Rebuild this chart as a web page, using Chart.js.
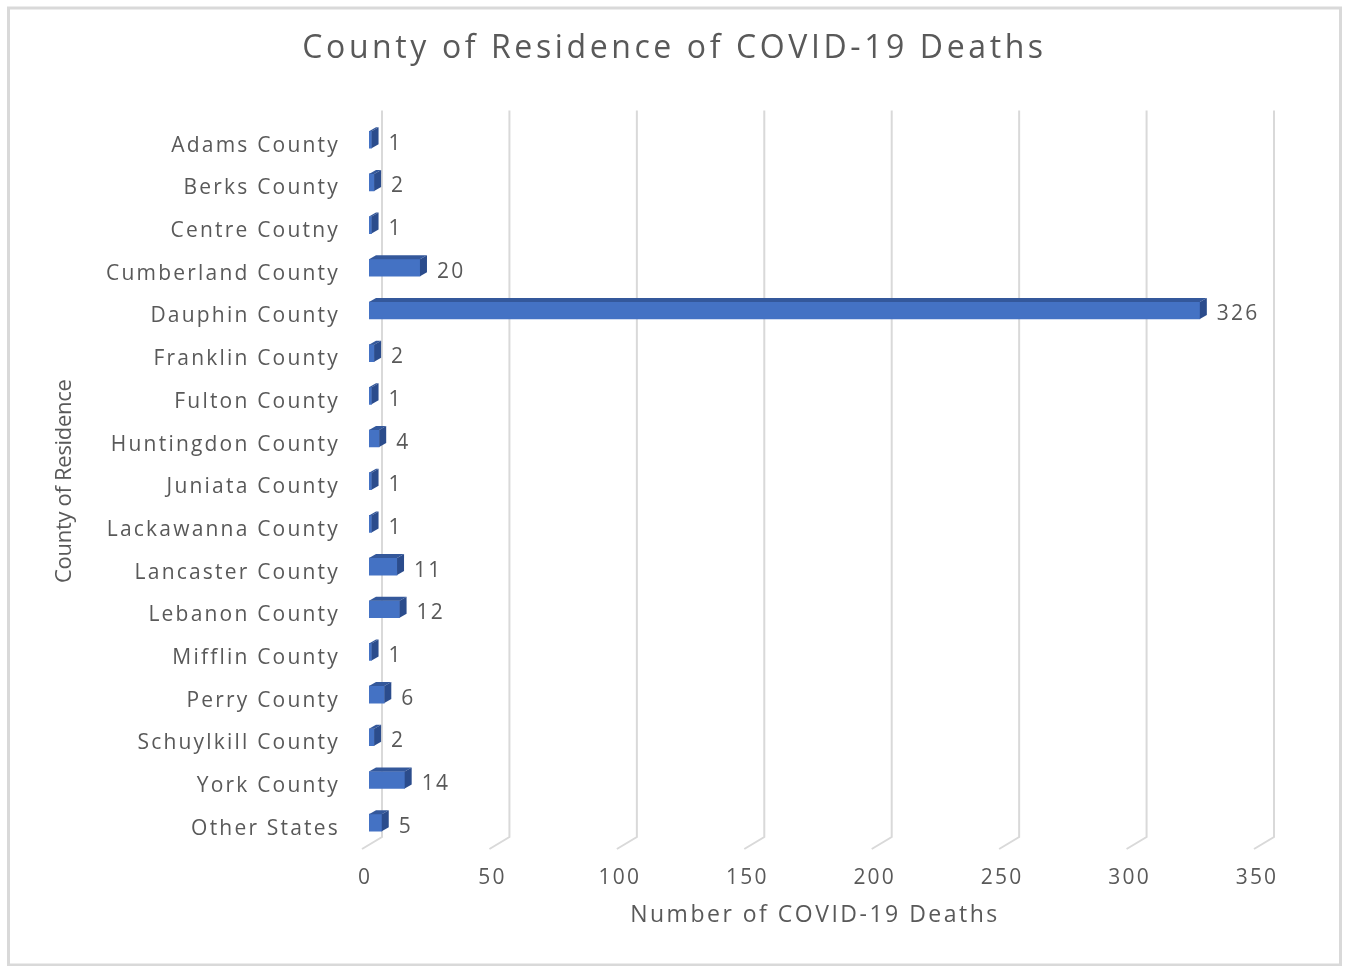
<!DOCTYPE html>
<html>
<head>
<meta charset="utf-8">
<title>County of Residence of COVID-19 Deaths</title>
<script src="https://cdn.jsdelivr.net/npm/chart.js@4"></script>
<style>
  body { margin: 0; background: #fff; }
  canvas { display: block; }
</style>
</head>
<body>
<canvas id="deathsChart" width="1349" height="966"></canvas>
<script>
const counties = [
    'Adams County', 'Berks County', 'Centre Coutny', 'Cumberland County',
    'Dauphin County', 'Franklin County', 'Fulton County', 'Huntingdon County',
    'Juniata County', 'Lackawanna County', 'Lancaster County', 'Lebanon County',
    'Mifflin County', 'Perry County', 'Schuylkill County', 'York County', 'Other States'
];
const deaths = [1, 2, 1, 20, 326, 2, 1, 4, 1, 1, 11, 12, 1, 6, 2, 14, 5];
const xTicks = [0, 50, 100, 150, 200, 250, 300, 350];

const textGray = '#595959';
const fontFamily = "'Open Sans', sans-serif";

// the reference text is drawn wide, so space the letters out per font size
const spacingBySize = { '32': 3.6, '21': 2.2, '23': 2.5, '22': -0.3 };

const patchSpacing = (ctx) => {
    ['fillText', 'measureText'].forEach((fn) => {
        const orig = ctx[fn].bind(ctx);
        ctx[fn] = (...args) => {
            const m = ctx.font.match(/([\d.]+)px/);
            const sp = m ? (spacingBySize[m[1]] || 0) : 0;
            ctx.letterSpacing = sp + 'px';
            return orig(...args);
        };
    });
};

// fake 3D look: back gridlines with a floor kink, bar top/side faces, value labels
const depth = { dx: 7, dy: 4, back: 13 };

const bars3d = {
    id: 'bars3d',
    beforeInit(chart) {
        patchSpacing(chart.ctx);
    },
    afterLayout(chart) {
        // centre the title on the whole canvas, not just the padded box
        if (chart.titleBlock) {
            chart.titleBlock.left = 0;
            chart.titleBlock.right = chart.width;
            chart.titleBlock.width = chart.width;
        }
    },
    beforeDraw(chart) {
        const ctx = chart.ctx;
        ctx.save();
        ctx.strokeStyle = '#d9d9d9';
        ctx.lineWidth = 3;
        ctx.strokeRect(8.5, 8, 1332, 957);
        ctx.restore();
    },
    beforeDatasetsDraw(chart) {
        const { ctx, chartArea, scales } = chart;
        ctx.save();
        ctx.strokeStyle = '#d9d9d9';
        ctx.lineWidth = 2;
        xTicks.forEach((v) => {
            const xb = scales.x.getPixelForValue(v) + depth.back;
            ctx.beginPath();
            ctx.moveTo(xb, chartArea.top - 8);
            ctx.lineTo(xb, chartArea.bottom - 7);
            ctx.lineTo(xb - 20, chartArea.bottom + 5);
            ctx.stroke();
        });
        ctx.restore();
    },
    afterDatasetsDraw(chart) {
        const ctx = chart.ctx;
        const meta = chart.getDatasetMeta(0);
        const { dx, dy } = depth;
        ctx.save();
        meta.data.forEach((bar, i) => {
            const { x, y, base, height } = bar.getProps(['x', 'y', 'base', 'height'], true);
            const top = y - height / 2;
            const bottom = y + height / 2;

            ctx.fillStyle = '#34589b';
            ctx.beginPath();
            ctx.moveTo(base, top);
            ctx.lineTo(base + dx, top - dy);
            ctx.lineTo(x + dx, top - dy);
            ctx.lineTo(x, top);
            ctx.closePath();
            ctx.fill();

            ctx.fillStyle = '#2b4c8c';
            ctx.beginPath();
            ctx.moveTo(x, top);
            ctx.lineTo(x + dx, top - dy);
            ctx.lineTo(x + dx, bottom - dy);
            ctx.lineTo(x, bottom);
            ctx.closePath();
            ctx.fill();

            ctx.fillStyle = textGray;
            ctx.font = `21px ${fontFamily}`;
            ctx.textAlign = 'left';
            ctx.textBaseline = 'middle';
            ctx.fillText(String(deaths[i]), x + 17, y + 4);
        });
        ctx.restore();
    }
};

new Chart(document.getElementById('deathsChart'), {
    type: 'bar',
    data: {
        labels: counties,
        datasets: [
            {
                label: 'Number of COVID-19 Deaths',
                data: deaths,
                backgroundColor: '#4472c4',
                borderWidth: 0,
                barThickness: 17
            }
        ]
    },
    options: {
        indexAxis: 'y',
        responsive: false,
        animation: false,
        layout: { padding: { left: 0, right: 88, top: 0, bottom: 0 } },
        plugins: {
            legend: { display: false },
            tooltip: { enabled: false },
            title: {
                display: true,
                text: 'County of Residence of COVID-19 Deaths',
                color: textGray,
                font: { family: fontFamily, size: 32, weight: 'normal' },
                padding: { top: 30, bottom: 50 }
            }
        },
        scales: {
            x: {
                min: 0,
                max: 350,
                grid: { display: false, drawTicks: false },
                border: { display: false },
                afterBuildTicks: (scale) => {
                    scale.ticks = xTicks.map((v) => ({ value: v }));
                },
                ticks: {
                    color: textGray,
                    font: { family: fontFamily, size: 21 },
                    padding: 21,
                    labelOffset: -4
                },
                title: {
                    display: true,
                    text: 'Number of COVID-19 Deaths',
                    color: textGray,
                    font: { family: fontFamily, size: 23 },
                    padding: { top: 0, bottom: 37 }
                },
                afterFit: (scale) => { scale.height = 122; }
            },
            y: {
                grid: { display: false, drawTicks: false },
                border: { display: false },
                ticks: {
                    color: textGray,
                    font: { family: fontFamily, size: 21 },
                    padding: 29,
                    labelOffset: 6,
                    autoSkip: false
                },
                title: {
                    display: true,
                    text: 'County of Residence',
                    color: textGray,
                    font: { family: fontFamily, size: 22 },
                    padding: { top: 52, bottom: 0 }
                },
                afterFit: (scale) => { scale.width = 369; }
            }
        }
    },
    plugins: [bars3d]
});
</script>
</body>
</html>
